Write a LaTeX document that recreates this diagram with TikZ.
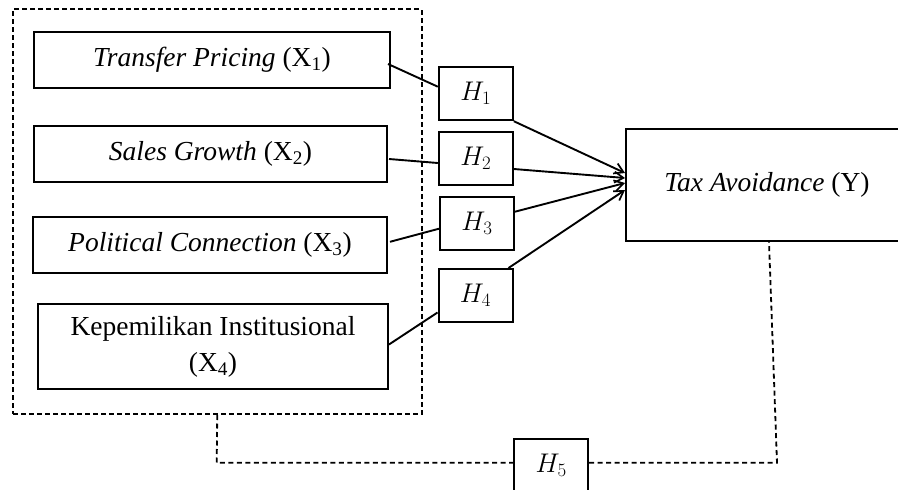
\RequirePackage{fix-cm}
\documentclass[tikz,border=0pt]{standalone}
\usepackage{fontspec}
\setmainfont{Liberation Serif}
\usetikzlibrary{calc,arrows.meta}
\tikzset{
  box/.style={draw, line width=2pt, inner sep=0pt, align=center, font=\fontsize{27.5}{36}\selectfont},
  hbox/.style={draw, line width=2pt, inner sep=0pt, minimum width=74pt, minimum height=53pt, font=\fontsize{27}{30}\selectfont},
  outerbox/.style={draw, line width=2pt, dash pattern=on 5pt off 3pt, inner sep=0pt},
  link/.style={line width=1.9pt},
  arr/.style={line width=1.9pt, -{Straight Barb[length=9pt,width=11pt,line width=1.7pt]}},
  dline/.style={line width=1.8pt, dash pattern=on 5pt off 3.5pt}
}
\begin{document}
\begin{tikzpicture}[x=1pt,y=-1pt]
\useasboundingbox (0,0) rectangle (898,490);
\clip (0,0) rectangle (898,490);
\fill[white] (0,0) rectangle (898,490);
% outer dashed group
\node[outerbox, minimum width=408.5pt, minimum height=405pt] (outer) at (217.25,211.5) {};
% variable boxes
\node[box, minimum width=356pt, minimum height=56pt] (b1) at (212,60) {\textit{Transfer Pricing} (X\textsubscript{1})};
\node[box, minimum width=353pt, minimum height=56pt] (b2) at (210.5,154) {\textit{Sales Growth} (X\textsubscript{2})};
\node[box, minimum width=354pt, minimum height=55.7pt] (b3) at (210,244.8) {\textit{Political Connection} (X\textsubscript{3})};
\node[box, minimum width=350pt, minimum height=85pt] (b4) at (213,346.5) {Kepemilikan Institusional\\(X\textsubscript{4})};
% hypothesis boxes
\node[hbox] (h1) at (475.8,93.7) {$H_1$};
\node[hbox] (h2) at (475.8,158) {$H_2$};
\node[hbox] (h3) at (477,223.7) {$H_3$};
\node[hbox] (h4) at (475.5,295.5) {$H_4$};
\node[hbox] (h5) at (551.2,465.5) {$H_5$};
% dependent variable
\node[box, minimum width=282pt, minimum height=111.4pt] (tax) at (767,185) {\textit{Tax Avoidance} (Y)};
% links into hypotheses
\draw[link] ($(b1.east)+(-3,4)$) -- ($(h1.west)+(0,-7)$);
\draw[link] ($(b2.east)+(1,5)$) -- ($(h2.west)+(0,5)$);
\draw[link] ($(b3.east)+(2,-3)$) -- ($(h3.west)+(0,5)$);
\draw[link] ($(b4.east)+(0,-2)$) -- ($(h4.west)+(0,17)$);
% arrows to Y
\draw[arr] (h1.south east) -- ($(tax.west)+(0,-12)$);
\draw[arr] ($(h2.east)+(0,11)$) -- ($(tax.west)+(0,-7)$);
\draw[arr] ($(h3.east)+(0,-12)$) -- ($(tax.west)+(0,-2)$);
\draw[arr] ($(h4.north east)+(-5,0)$) -- ($(tax.west)+(0,5)$);
% moderation dashed lines
\coordinate (c1) at (216.7,462.7);
\coordinate (c2) at (777,462.7);
\draw[dline] (outer.south) -- (c1) -- (h5.west |- c1);
\draw[dline] (h5.east |- c2) -- (c2) -- ($(tax.south)+(2,0)$);
\end{tikzpicture}
\end{document}
